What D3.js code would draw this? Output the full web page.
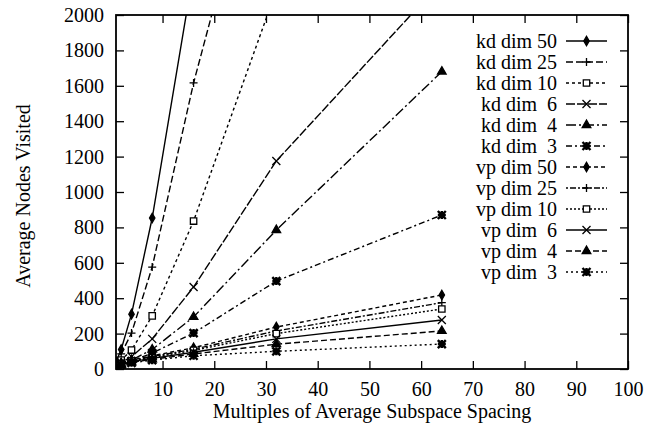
<!DOCTYPE html>
<html>
<head>
<meta charset="utf-8">
<script src="https://cdn.jsdelivr.net/npm/d3@7"></script>
<style>
  body { margin: 0; background: #fff; }
  text { font-family: "Liberation Serif", "Times New Roman", serif; fill: #000; }
</style>
</head>
<body>
<div id="chart"></div>
<script>
// x positions (multiples of average subspace spacing)
const spacing = [1, 2, 4, 8, 16, 32, 64]

// average nodes visited
const kdDim50 = [40, 110, 310, 853, 2250]
const kdDim25 = [30, 85, 203, 576, 1616, 3370]
const kdDim10 = [25, 50, 107, 300, 836, 2140]
const kdDim6 = [20, 35, 70, 170, 463, 1175, 2190]
const kdDim4 = [15, 28, 50, 110, 294, 785, 1680]
const kdDim3 = [12, 25, 45, 90, 203, 497, 870]
const vpDim50 = [20, 35, 50, 75, 120, 237, 418]
const vpDim25 = [18, 32, 47, 70, 112, 215, 375]
const vpDim10 = [16, 30, 45, 65, 105, 200, 339]
const vpDim6 = [15, 28, 42, 60, 95, 170, 277]
const vpDim4 = [12, 25, 38, 55, 85, 140, 215]
const vpDim3 = [10, 22, 35, 50, 75, 100, 141]

const seriesNames = ['kd dim 50', 'kd dim 25', 'kd dim 10', 'kd dim  6', 'kd dim  4', 'kd dim  3',
    'vp dim 50', 'vp dim 25', 'vp dim 10', 'vp dim  6', 'vp dim  4', 'vp dim  3']
const seriesValues = [kdDim50, kdDim25, kdDim10, kdDim6, kdDim4, kdDim3,
    vpDim50, vpDim25, vpDim10, vpDim6, vpDim4, vpDim3]

const xTicks = [10, 20, 30, 40, 50, 60, 70, 80, 90, 100]
const yTicks = [0, 200, 400, 600, 800, 1000, 1200, 1400, 1600, 1800, 2000]

// gnuplot-like line types and point types, one per series
const dashes = [null, '7,3', '3,3', '9,2', '10,3,2,3', '6,3,2,3',
    '4,3', '2,2,6,2', '2,2', null, '6,3', '2,3']
const symbols = ['diamond', 'plus', 'box', 'cross', 'triangle', 'star',
    'diamond', 'plus', 'box', 'cross', 'triangle', 'star']

const W = 652, H = 424
const plot = { left: 116, right: 628, top: 15, bottom: 369 }

const svg = d3.select('#chart').append('svg')
    .attr('width', W)
    .attr('height', H)

const x = d3.scaleLinear().domain([1, 100]).range([plot.left, plot.right])
const y = d3.scaleLinear().domain([0, 2000]).range([plot.bottom, plot.top])

svg.append('defs').append('clipPath').attr('id', 'clip')
    .append('rect')
    .attr('x', plot.left).attr('y', plot.top)
    .attr('width', plot.right - plot.left).attr('height', plot.bottom - plot.top)

// axes with inward ticks, mirrored on top / right
const fontSize = 20
function styleAxis(g) {
    g.select('.domain').remove()
    g.selectAll('line').attr('stroke', '#000').attr('stroke-width', 1.3)
    g.selectAll('text').style('font-size', fontSize + 'px')
}

svg.append('g')
    .attr('transform', `translate(${plot.left},0)`)
    .call(d3.axisLeft(y).tickValues(yTicks).tickSize(-8).tickPadding(12).tickFormat(d3.format('d')))
    .call(styleAxis)
svg.append('g')
    .attr('transform', `translate(${plot.right},0)`)
    .call(d3.axisRight(y).tickValues(yTicks).tickSize(-8).tickFormat(''))
    .call(styleAxis)
svg.append('g')
    .attr('transform', `translate(0,${plot.bottom})`)
    .call(d3.axisBottom(x).tickValues(xTicks).tickSize(-8).tickPadding(13).tickFormat(d3.format('d')))
    .call(styleAxis)
svg.append('g')
    .attr('transform', `translate(0,${plot.top})`)
    .call(d3.axisTop(x).tickValues(xTicks).tickSize(-8).tickFormat(''))
    .call(styleAxis)

svg.append('rect')
    .attr('x', plot.left).attr('y', plot.top)
    .attr('width', plot.right - plot.left).attr('height', plot.bottom - plot.top)
    .attr('fill', 'none').attr('stroke', '#000').attr('stroke-width', 1.8)

svg.append('text')
    .attr('transform', `translate(30,${(plot.top + plot.bottom) / 2 + 4}) rotate(-90)`)
    .attr('text-anchor', 'middle')
    .style('font-size', fontSize + 'px')
    .text('Average Nodes Visited')
svg.append('text')
    .attr('x', (plot.left + plot.right) / 2)
    .attr('y', 418)
    .attr('text-anchor', 'middle')
    .style('font-size', fontSize + 'px')
    .text('Multiples of Average Subspace Spacing')

// point markers
function markerPath(type, r) {
    if (type === 'diamond') return d3.symbol(d3.symbolDiamond, r * r * 1.6)()
    if (type === 'box') return `M${-r},${-r}H${r}V${r}H${-r}Z`
    if (type === 'triangle') return d3.symbol(d3.symbolTriangle, r * r * 2)()
    if (type === 'plus') return `M${-r},0H${r}M0,${-r}V${r}`
    if (type === 'cross') return `M${-r},${-r}L${r},${r}M${-r},${r}L${r},${-r}`
    // star: plus + cross overlaid, drawn heavy
    return `M${-r},0H${r}M0,${-r}V${r}M${-r},${-r}L${r},${r}M${-r},${r}L${r},${-r}`
}
function drawMarker(g, type, cx, cy) {
    const r = type === 'box' ? 3.2 : 4
    const filled = type === 'diamond' || type === 'triangle'
    g.append('path')
        .attr('transform', `translate(${cx},${cy})`)
        .attr('d', markerPath(type, r))
        .attr('fill', filled ? '#000' : (type === 'box' ? '#fff' : 'none'))
        .attr('stroke', '#000')
        .attr('stroke-width', type === 'star' ? 2.4 : 1.3)
}

const line = d3.line()
    .x(d => x(d[0]))
    .y(d => y(d[1]))

const plotArea = svg.append('g').attr('clip-path', 'url(#clip)')

seriesValues.forEach((vals, i) => {
    const pts = vals.map((v, j) => [spacing[j], v])
    plotArea.append('path')
        .attr('d', line(pts))
        .attr('fill', 'none')
        .attr('stroke', '#000')
        .attr('stroke-width', 1.4)
        .attr('stroke-dasharray', dashes[i])
    pts.forEach(p => drawMarker(plotArea, symbols[i], x(p[0]), y(p[1])))
})

// legend inside the plot, top right
const legend = {
    textRight: 557,
    lineStart: 566,
    lineEnd: 607,
    top: 41,
    step: 21
}
seriesNames.forEach((name, i) => {
    const ly = legend.top + i * legend.step
    svg.append('text')
        .attr('x', legend.textRight)
        .attr('y', ly)
        .attr('dy', '0.35em')
        .attr('text-anchor', 'end')
        .style('font-size', fontSize + 'px')
        .style('white-space', 'pre')
        .text(name)
    svg.append('line')
        .attr('x1', legend.lineStart).attr('x2', legend.lineEnd)
        .attr('y1', ly).attr('y2', ly)
        .attr('stroke', '#000')
        .attr('stroke-width', 1.4)
        .attr('stroke-dasharray', dashes[i])
    drawMarker(svg, symbols[i], (legend.lineStart + legend.lineEnd) / 2, ly)
})
</script>
</body>
</html>
